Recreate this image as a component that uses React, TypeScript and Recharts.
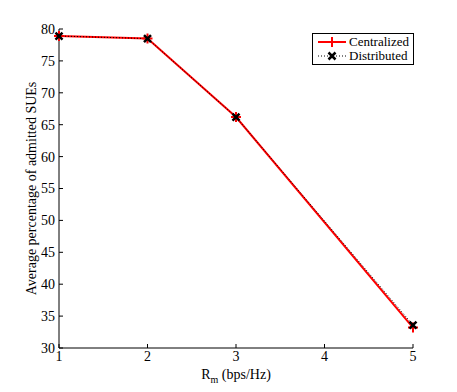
import React from 'react';
import { LineChart, Line, XAxis, YAxis, Legend } from 'recharts';

const rateValues = [1, 2, 3, 5];
const centralized = [78.9, 78.5, 66.2, 33.2];
const distributed = [78.9, 78.5, 66.2, 33.6];
const xTicks = [1, 2, 3, 4, 5];
const yTicks = [30, 35, 40, 45, 50, 55, 60, 65, 70, 75, 80];

const data = rateValues.map((r, i) => ({
  rate: r,
  centralized: centralized[i],
  distributed: distributed[i],
}));

const FONT = '"Liberation Serif", "Times New Roman", serif';

const PlusDot = (props: any) => {
  const { cx, cy } = props;
  if (cx == null || cy == null) return <g />;
  return (
    <path
      d={`M${cx - 5},${cy}H${cx + 5}M${cx},${cy - 5}V${cy + 5}`}
      stroke="#ff0000"
      strokeWidth={2}
      fill="none"
    />
  );
};

const CrossDot = (props: any) => {
  const { cx, cy } = props;
  if (cx == null || cy == null) return <g />;
  const s = 3.5;
  return (
    <path
      d={`M${cx - s},${cy - s}L${cx + s},${cy + s}M${cx - s},${cy + s}L${cx + s},${cy - s}`}
      stroke="#000"
      strokeWidth={2.5}
      fill="none"
    />
  );
};

const XLabel = (props: any) => {
  const { viewBox } = props;
  const cx = viewBox.x + viewBox.width / 2;
  return (
    <text x={cx} y={379} textAnchor="middle" fontFamily={FONT} fontSize={14} fill="#000">
      <tspan>R</tspan>
      <tspan fontSize={10} dy={4}>m</tspan>
      <tspan dy={-4}> (bps/Hz)</tspan>
    </text>
  );
};

const renderLegend = () => (
  <div
    style={{
      border: '1px solid #000',
      background: '#fff',
      padding: '1px 4px 1px 4px',
      fontFamily: FONT,
      fontSize: 13,
      lineHeight: '14px',
      color: '#000',
    }}
  >
    <div style={{ display: 'flex', alignItems: 'center', height: 14 }}>
      <svg width={30} height={12}>
        <line x1={1} y1={6} x2={29} y2={6} stroke="#ff0000" strokeWidth={2} />
        <path d="M15,1V11M10,6H20" stroke="#ff0000" strokeWidth={2} />
      </svg>
      <span style={{ marginLeft: 2 }}>Centralized</span>
    </div>
    <div style={{ display: 'flex', alignItems: 'center', height: 14 }}>
      <svg width={30} height={12}>
        <line x1={1} y1={6} x2={29} y2={6} stroke="#000" strokeWidth={1} strokeDasharray="1 2" />
        <path d="M11.5,2.5L18.5,9.5M11.5,9.5L18.5,2.5" stroke="#000" strokeWidth={2.5} />
      </svg>
      <span style={{ marginLeft: 2 }}>Distributed</span>
    </div>
  </div>
);

export default function App() {
  const tickStyle = { fontFamily: FONT, fontSize: 14, fill: '#000' };
  return (
    <div style={{ position: 'absolute', left: 0, top: 0, background: '#fff' }}>
      <LineChart
        width={457}
        height={392}
        data={data}
        margin={{ top: 29, right: 44, bottom: 0, left: 0 }}
      >
        <XAxis
          xAxisId="bottom"
          dataKey="rate"
          type="number"
          domain={[1, 5]}
          ticks={xTicks}
          height={44}
          tickSize={-4}
          tickMargin={7}
          tick={tickStyle}
          axisLine={{ stroke: '#000' }}
          tickLine={{ stroke: '#000' }}
          label={<XLabel />}
        />
        <XAxis
          xAxisId="top"
          orientation="top"
          dataKey="rate"
          type="number"
          domain={[1, 5]}
          ticks={xTicks}
          height={0}
          tickSize={-4}
          tick={false}
          axisLine={{ stroke: '#000' }}
          tickLine={{ stroke: '#000' }}
        />
        <YAxis
          yAxisId="left"
          type="number"
          domain={[30, 80]}
          ticks={yTicks}
          width={59}
          tickSize={-4}
          tickMargin={8}
          tick={tickStyle}
          axisLine={{ stroke: '#000' }}
          tickLine={{ stroke: '#000' }}
          label={{
            value: 'Average percentage of admitted SUEs',
            angle: -90,
            position: 'insideLeft',
            offset: 31,
            style: { fontFamily: FONT, fontSize: 14, fill: '#000', textAnchor: 'middle' },
          }}
        />
        <YAxis
          yAxisId="right"
          orientation="right"
          type="number"
          domain={[30, 80]}
          ticks={yTicks}
          width={0}
          tickSize={-4}
          tick={false}
          axisLine={{ stroke: '#000' }}
          tickLine={{ stroke: '#000' }}
        />
        <Legend
          layout="horizontal"
          verticalAlign="middle"
          align="center"
          content={renderLegend}
          wrapperStyle={{ top: 33, left: 312, width: 'auto' }}
        />
        <Line
          xAxisId="bottom"
          yAxisId="left"
          type="linear"
          dataKey="centralized"
          stroke="#ff0000"
          strokeWidth={2}
          dot={<PlusDot />}
          activeDot={false}
          isAnimationActive={false}
        />
        <Line
          xAxisId="bottom"
          yAxisId="left"
          type="linear"
          dataKey="distributed"
          stroke="#000"
          strokeWidth={1}
          strokeDasharray="1 2"
          dot={<CrossDot />}
          activeDot={false}
          isAnimationActive={false}
        />
      </LineChart>
    </div>
  );
}
